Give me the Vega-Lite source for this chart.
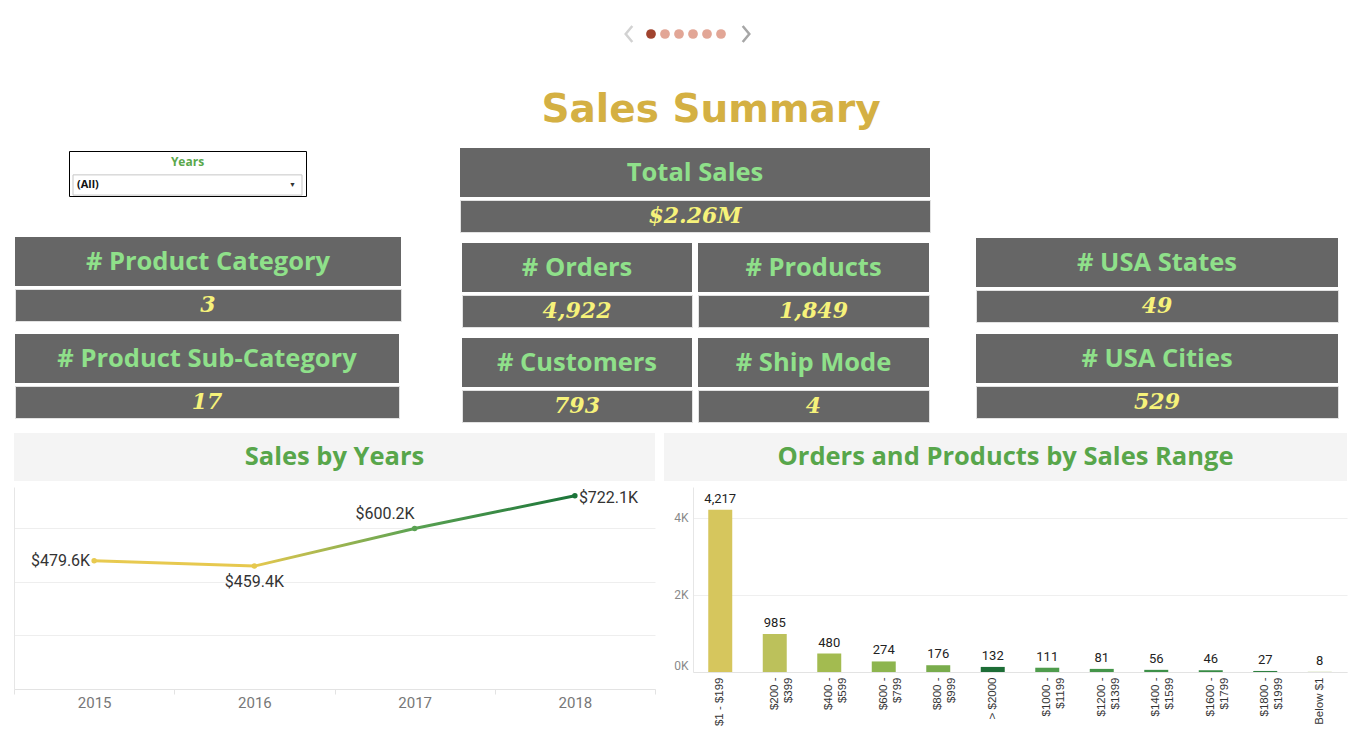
{
  "$schema": "https://vega.github.io/schema/vega-lite/v6.json",
  "background": "#ffffff",
  "padding": 0,
  "spacing": 0,
  "resolve": {"scale": {"color": "independent", "x": "independent", "y": "independent"}},
  "config": {
    "view": {"stroke": null},
    "concat": {"spacing": 0},
    "locale": {"number": {"decimal": ".", "thousands": ",", "grouping": [3], "currency": ["$", "K"]}},
    "text": {"font": "Roboto"}
  },
  "datasets": {
    "pages": [
      {"page": 1, "state": "current"},
      {"page": 2, "state": "other"},
      {"page": 3, "state": "other"},
      {"page": 4, "state": "other"},
      {"page": 5, "state": "other"},
      {"page": 6, "state": "other"}
    ],
    "filter": [{"part": "title", "label": "Years"}, {"part": "control", "label": "(All)"}],
    "kpi": [
      {"metric": "Total Sales", "value": "$2.26M"},
      {"metric": "# Product Category", "value": "3"},
      {"metric": "# Product Sub-Category", "value": "17"},
      {"metric": "# Orders", "value": "4,922"},
      {"metric": "# Products", "value": "1,849"},
      {"metric": "# Customers", "value": "793"},
      {"metric": "# Ship Mode", "value": "4"},
      {"metric": "# USA States", "value": "49"},
      {"metric": "# USA Cities", "value": "529"}
    ],
    "sales": [
      {"Year": "2015", "Sales": 479.6},
      {"Year": "2016", "Sales": 459.4},
      {"Year": "2017", "Sales": 600.2},
      {"Year": "2018", "Sales": 722.1}
    ],
    "ranges": [
      {"Range": "$1 - $199", "Count": 4217},
      {"Range": "$200 - $399", "Count": 985},
      {"Range": "$400 - $599", "Count": 480},
      {"Range": "$600 - $799", "Count": 274},
      {"Range": "$800 - $999", "Count": 176},
      {"Range": "> $2000", "Count": 132},
      {"Range": "$1000 - $1199", "Count": 111},
      {"Range": "$1200 - $1399", "Count": 81},
      {"Range": "$1400 - $1599", "Count": 56},
      {"Range": "$1600 - $1799", "Count": 46},
      {"Range": "$1800 - $1999", "Count": 27},
      {"Range": "Below $1", "Count": 8}
    ]
  },
  "vconcat": [
    {
      "hconcat": [
        {"width": 620, "height": 68, "data": {"values": []}, "mark": "text", "encoding": {}},
        {
          "width": 14, "height": 68,
          "data": {"values": [{"dir": "prev"}]},
          "mark": {"type": "point", "filled": false, "shape": "M0.25,-0.6L-0.25,0L0.25,0.6", "size": 700, "strokeWidth": 2.5, "color": "#d2d2d2", "opacity": 1},
          "encoding": {}
        },
        {"width": 6, "height": 68, "data": {"values": []}, "mark": "text", "encoding": {}},
        {
          "width": 84, "height": 68,
          "data": {"name": "pages"},
          "mark": {"type": "point", "filled": true, "size": 95, "opacity": 1},
          "encoding": {
            "x": {"field": "page", "type": "ordinal", "scale": {"type": "point", "padding": 0.5}, "axis": null},
            "color": {"field": "state", "type": "nominal", "scale": {"domain": ["current", "other"], "range": ["#a0432e", "#e2a696"]}, "legend": null}
          }
        },
        {"width": 9, "height": 68, "data": {"values": []}, "mark": "text", "encoding": {}},
        {
          "width": 14, "height": 68,
          "data": {"values": [{"dir": "next"}]},
          "mark": {"type": "point", "filled": false, "shape": "M-0.25,-0.6L0.25,0L-0.25,0.6", "size": 700, "strokeWidth": 2.5, "color": "#a6a6a6", "opacity": 1},
          "encoding": {}
        }
      ],
      "spacing": 0,
      "resolve": {"scale": {"color": "independent", "x": "independent"}}
    },
    {
      "width": 1366,
      "height": 80,
      "data": {"values": [{"title": "Sales Summary"}]},
      "mark": {"type": "text", "font": "DejaVu Sans", "fontWeight": "bold", "fontSize": 39, "color": "#d4b043", "dx": 28, "dy": 2},
      "encoding": {"text": {"field": "title", "type": "nominal"}}
    },
    {
      "hconcat": [
        {"width": 14, "height": 1, "data": {"values": []}, "mark": "text", "encoding": {}},
        {
          "vconcat": [
            {"width": 1, "height": 2, "data": {"values": []}, "mark": "text", "encoding": {}},
            {
              "hconcat": [
                {"width": 53, "height": 1, "data": {"values": []}, "mark": "text", "encoding": {}},
                {
                  "width": 237,
                  "height": 45,
                  "view": {"fill": "#ffffff", "stroke": "#000000", "strokeWidth": 1},
                  "data": {"name": "filter"},
                  "encoding": {
                    "y": {"field": "part", "type": "nominal", "scale": {"domain": ["title", "control"], "paddingInner": 0.12, "paddingOuter": 0.04}, "axis": null}
                  },
                  "layer": [
                    {
                      "transform": [{"filter": "datum.part === 'control'"}],
                      "mark": {"type": "rect", "fill": "#ffffff", "stroke": "#c6c6c6", "strokeWidth": 1},
                      "encoding": {"x": {"field": "part", "type": "nominal", "scale": {"domain": ["control"], "paddingInner": 0, "paddingOuter": 0.0175}, "axis": null}}
                    },
                    {
                      "transform": [{"filter": "datum.part === 'title'"}],
                      "mark": {"type": "text", "font": "Open Sans", "fontWeight": "bold", "fontSize": 12, "color": "#5aa84b"},
                      "encoding": {"text": {"field": "label", "type": "nominal"}}
                    },
                    {
                      "transform": [{"filter": "datum.part === 'control'"}],
                      "mark": {"type": "text", "align": "left", "dx": 4, "font": "Open Sans", "fontWeight": "bold", "fontSize": 11, "color": "#111111"},
                      "encoding": {"x": {"field": "part", "type": "nominal", "bandPosition": 0}, "text": {"field": "label", "type": "nominal"}}
                    },
                    {
                      "transform": [{"filter": "datum.part === 'control'"}],
                      "mark": {"type": "text", "text": "▼", "align": "right", "dx": -6, "fontSize": 7, "color": "#333333"},
                      "encoding": {"x": {"field": "part", "type": "nominal", "bandPosition": 1}}
                    }
                  ]
                }
              ],
              "spacing": 0
            },
            {"width": 1, "height": 40, "data": {"values": []}, "mark": "text", "encoding": {}},
            {
              "vconcat": [
                {"width": 386, "height": 49, "view": {"fill": "#666666", "stroke": null}, "data": {"name": "kpi"}, "transform": [{"filter": {"field": "metric", "equal": "# Product Category"}}], "mark": {"type": "text", "font": "Open Sans", "fontWeight": "bold", "fontSize": 25.5, "color": "#8fe08a"}, "encoding": {"text": {"field": "metric", "type": "nominal"}}},
                {"width": 386, "height": 32, "view": {"fill": "#666666", "stroke": "#e2e2e2", "strokeWidth": 1}, "data": {"name": "kpi"}, "transform": [{"filter": {"field": "metric", "equal": "# Product Category"}}], "mark": {"type": "text", "font": "DejaVu Serif", "fontStyle": "italic", "fontWeight": "bold", "fontSize": 22, "color": "#f6f27a"}, "encoding": {"text": {"field": "value", "type": "nominal"}}}
              ],
              "spacing": 2
            },
            {"width": 1, "height": 12, "data": {"values": []}, "mark": "text", "encoding": {}},
            {
              "vconcat": [
                {"width": 384, "height": 49, "view": {"fill": "#666666", "stroke": null}, "data": {"name": "kpi"}, "transform": [{"filter": {"field": "metric", "equal": "# Product Sub-Category"}}], "mark": {"type": "text", "font": "Open Sans", "fontWeight": "bold", "fontSize": 25.5, "color": "#8fe08a"}, "encoding": {"text": {"field": "metric", "type": "nominal"}}},
                {"width": 384, "height": 32, "view": {"fill": "#666666", "stroke": "#e2e2e2", "strokeWidth": 1}, "data": {"name": "kpi"}, "transform": [{"filter": {"field": "metric", "equal": "# Product Sub-Category"}}], "mark": {"type": "text", "font": "DejaVu Serif", "fontStyle": "italic", "fontWeight": "bold", "fontSize": 22, "color": "#f6f27a"}, "encoding": {"text": {"field": "value", "type": "nominal"}}}
              ],
              "spacing": 2
            }
          ],
          "spacing": 0
        },
        {"width": 57, "height": 1, "data": {"values": []}, "mark": "text", "encoding": {}},
        {
          "vconcat": [
            {
              "vconcat": [
                {"width": 470, "height": 49, "view": {"fill": "#666666", "stroke": null}, "data": {"name": "kpi"}, "transform": [{"filter": {"field": "metric", "equal": "Total Sales"}}], "mark": {"type": "text", "font": "Open Sans", "fontWeight": "bold", "fontSize": 25.5, "color": "#8fe08a"}, "encoding": {"text": {"field": "metric", "type": "nominal"}}},
                {"width": 470, "height": 32, "view": {"fill": "#666666", "stroke": "#e2e2e2", "strokeWidth": 1}, "data": {"name": "kpi"}, "transform": [{"filter": {"field": "metric", "equal": "Total Sales"}}], "mark": {"type": "text", "font": "DejaVu Serif", "fontStyle": "italic", "fontWeight": "bold", "fontSize": 22, "color": "#f6f27a"}, "encoding": {"text": {"field": "value", "type": "nominal"}}}
              ],
              "spacing": 2
            },
            {"width": 1, "height": 10, "data": {"values": []}, "mark": "text", "encoding": {}},
            {
              "hconcat": [
                {"width": 1, "height": 1, "data": {"values": []}, "mark": "text", "encoding": {}},
                {
                  "vconcat": [
                    {"width": 230, "height": 49, "view": {"fill": "#666666", "stroke": null}, "data": {"name": "kpi"}, "transform": [{"filter": {"field": "metric", "equal": "# Orders"}}], "mark": {"type": "text", "font": "Open Sans", "fontWeight": "bold", "fontSize": 25.5, "color": "#8fe08a"}, "encoding": {"text": {"field": "metric", "type": "nominal"}}},
                    {"width": 230, "height": 32, "view": {"fill": "#666666", "stroke": "#e2e2e2", "strokeWidth": 1}, "data": {"name": "kpi"}, "transform": [{"filter": {"field": "metric", "equal": "# Orders"}}], "mark": {"type": "text", "font": "DejaVu Serif", "fontStyle": "italic", "fontWeight": "bold", "fontSize": 22, "color": "#f6f27a"}, "encoding": {"text": {"field": "value", "type": "nominal"}}}
                  ],
                  "spacing": 2
                },
                {"width": 4, "height": 1, "data": {"values": []}, "mark": "text", "encoding": {}},
                {
                  "vconcat": [
                    {"width": 231, "height": 49, "view": {"fill": "#666666", "stroke": null}, "data": {"name": "kpi"}, "transform": [{"filter": {"field": "metric", "equal": "# Products"}}], "mark": {"type": "text", "font": "Open Sans", "fontWeight": "bold", "fontSize": 25.5, "color": "#8fe08a"}, "encoding": {"text": {"field": "metric", "type": "nominal"}}},
                    {"width": 231, "height": 32, "view": {"fill": "#666666", "stroke": "#e2e2e2", "strokeWidth": 1}, "data": {"name": "kpi"}, "transform": [{"filter": {"field": "metric", "equal": "# Products"}}], "mark": {"type": "text", "font": "DejaVu Serif", "fontStyle": "italic", "fontWeight": "bold", "fontSize": 22, "color": "#f6f27a"}, "encoding": {"text": {"field": "value", "type": "nominal"}}}
                  ],
                  "spacing": 2
                }
              ],
              "spacing": 0
            },
            {"width": 1, "height": 10, "data": {"values": []}, "mark": "text", "encoding": {}},
            {
              "hconcat": [
                {"width": 1, "height": 1, "data": {"values": []}, "mark": "text", "encoding": {}},
                {
                  "vconcat": [
                    {"width": 230, "height": 49, "view": {"fill": "#666666", "stroke": null}, "data": {"name": "kpi"}, "transform": [{"filter": {"field": "metric", "equal": "# Customers"}}], "mark": {"type": "text", "font": "Open Sans", "fontWeight": "bold", "fontSize": 25.5, "color": "#8fe08a"}, "encoding": {"text": {"field": "metric", "type": "nominal"}}},
                    {"width": 230, "height": 32, "view": {"fill": "#666666", "stroke": "#e2e2e2", "strokeWidth": 1}, "data": {"name": "kpi"}, "transform": [{"filter": {"field": "metric", "equal": "# Customers"}}], "mark": {"type": "text", "font": "DejaVu Serif", "fontStyle": "italic", "fontWeight": "bold", "fontSize": 22, "color": "#f6f27a"}, "encoding": {"text": {"field": "value", "type": "nominal"}}}
                  ],
                  "spacing": 2
                },
                {"width": 4, "height": 1, "data": {"values": []}, "mark": "text", "encoding": {}},
                {
                  "vconcat": [
                    {"width": 231, "height": 49, "view": {"fill": "#666666", "stroke": null}, "data": {"name": "kpi"}, "transform": [{"filter": {"field": "metric", "equal": "# Ship Mode"}}], "mark": {"type": "text", "font": "Open Sans", "fontWeight": "bold", "fontSize": 25.5, "color": "#8fe08a"}, "encoding": {"text": {"field": "metric", "type": "nominal"}}},
                    {"width": 231, "height": 32, "view": {"fill": "#666666", "stroke": "#e2e2e2", "strokeWidth": 1}, "data": {"name": "kpi"}, "transform": [{"filter": {"field": "metric", "equal": "# Ship Mode"}}], "mark": {"type": "text", "font": "DejaVu Serif", "fontStyle": "italic", "fontWeight": "bold", "fontSize": 22, "color": "#f6f27a"}, "encoding": {"text": {"field": "value", "type": "nominal"}}}
                  ],
                  "spacing": 2
                }
              ],
              "spacing": 0
            }
          ],
          "spacing": 0
        },
        {"width": 44, "height": 1, "data": {"values": []}, "mark": "text", "encoding": {}},
        {
          "vconcat": [
            {"width": 1, "height": 90, "data": {"values": []}, "mark": "text", "encoding": {}},
            {
              "vconcat": [
                {"width": 362, "height": 49, "view": {"fill": "#666666", "stroke": null}, "data": {"name": "kpi"}, "transform": [{"filter": {"field": "metric", "equal": "# USA States"}}], "mark": {"type": "text", "font": "Open Sans", "fontWeight": "bold", "fontSize": 25.5, "color": "#8fe08a"}, "encoding": {"text": {"field": "metric", "type": "nominal"}}},
                {"width": 362, "height": 32, "view": {"fill": "#666666", "stroke": "#e2e2e2", "strokeWidth": 1}, "data": {"name": "kpi"}, "transform": [{"filter": {"field": "metric", "equal": "# USA States"}}], "mark": {"type": "text", "font": "DejaVu Serif", "fontStyle": "italic", "fontWeight": "bold", "fontSize": 22, "color": "#f6f27a"}, "encoding": {"text": {"field": "value", "type": "nominal"}}}
              ],
              "spacing": 2
            },
            {"width": 1, "height": 11, "data": {"values": []}, "mark": "text", "encoding": {}},
            {
              "vconcat": [
                {"width": 362, "height": 49, "view": {"fill": "#666666", "stroke": null}, "data": {"name": "kpi"}, "transform": [{"filter": {"field": "metric", "equal": "# USA Cities"}}], "mark": {"type": "text", "font": "Open Sans", "fontWeight": "bold", "fontSize": 25.5, "color": "#8fe08a"}, "encoding": {"text": {"field": "metric", "type": "nominal"}}},
                {"width": 362, "height": 32, "view": {"fill": "#666666", "stroke": "#e2e2e2", "strokeWidth": 1}, "data": {"name": "kpi"}, "transform": [{"filter": {"field": "metric", "equal": "# USA Cities"}}], "mark": {"type": "text", "font": "DejaVu Serif", "fontStyle": "italic", "fontWeight": "bold", "fontSize": 22, "color": "#f6f27a"}, "encoding": {"text": {"field": "value", "type": "nominal"}}}
              ],
              "spacing": 2
            }
          ],
          "spacing": 0
        }
      ],
      "spacing": 0
    },
    {"width": 1, "height": 10, "data": {"values": []}, "mark": "text", "encoding": {}},
    {
      "hconcat": [
        {"width": 14, "height": 1, "data": {"values": []}, "mark": "text", "encoding": {}},
        {"width": 641, "height": 48, "view": {"fill": "#f4f4f4", "stroke": null}, "data": {"values": [{"heading": "Sales by Years"}]}, "mark": {"type": "text", "font": "Open Sans", "fontWeight": "bold", "fontSize": 25.5, "color": "#58a64b"}, "encoding": {"text": {"field": "heading", "type": "nominal"}}},
        {"width": 9, "height": 1, "data": {"values": []}, "mark": "text", "encoding": {}},
        {"width": 683, "height": 48, "view": {"fill": "#f4f4f4", "stroke": null}, "data": {"values": [{"heading": "Orders and Products by Sales Range"}]}, "mark": {"type": "text", "font": "Open Sans", "fontWeight": "bold", "fontSize": 25.5, "color": "#58a64b"}, "encoding": {"text": {"field": "heading", "type": "nominal"}}}
      ],
      "spacing": 0
    },
    {"width": 1, "height": 6, "data": {"values": []}, "mark": "text", "encoding": {}},
    {
      "hconcat": [
        {"width": 14, "height": 1, "data": {"values": []}, "mark": "text", "encoding": {}},
        {
          "width": 641,
          "height": 202,
          "data": {"name": "sales"},
          "encoding": {
            "x": {
              "field": "Year", "type": "ordinal",
              "scale": {"type": "band", "paddingInner": 0, "paddingOuter": 0},
              "axis": {"title": null, "labelAngle": 0, "labelFont": "Roboto", "labelFontSize": 15, "labelColor": "#777777", "labelPadding": 1, "tickBand": "extent", "tickColor": "#e3e3e3", "tickSize": 5, "domainColor": "#e3e3e3", "grid": false}
            },
            "y": {
              "field": "Sales", "type": "quantitative",
              "scale": {"domain": [0, 755], "nice": false},
              "axis": {"title": null, "labels": false, "ticks": false, "values": [0, 200, 400, 600], "domainColor": "#e6e6e6", "gridColor": "#eeeeee"}
            }
          },
          "layer": [
            {
              "mark": {
                "type": "line", "strokeWidth": 3,
                "color": {"gradient": "linear", "x1": 0, "y1": 0, "x2": 1, "y2": 0, "stops": [
                  {"offset": 0, "color": "#e8ca50"},
                  {"offset": 0.3333, "color": "#e6c84e"},
                  {"offset": 0.6667, "color": "#5aa252"},
                  {"offset": 1, "color": "#1b7439"}
                ]}
              }
            },
            {
              "mark": {"type": "point", "filled": true, "size": 30, "opacity": 1},
              "encoding": {"color": {"field": "Year", "type": "nominal", "scale": {"range": ["#e8ca50", "#e6c84e", "#5aa252", "#1b7439"]}, "legend": null}}
            },
            {
              "transform": [{"filter": "datum.Year === '2015'"}],
              "mark": {"type": "text", "align": "right", "baseline": "middle", "dx": -4, "fontSize": 16, "color": "#333333"},
              "encoding": {"text": {"field": "Sales", "type": "quantitative", "format": "$.1f"}}
            },
            {
              "transform": [{"filter": "datum.Year === '2016'"}],
              "mark": {"type": "text", "align": "center", "baseline": "top", "dy": 8, "fontSize": 16, "color": "#333333"},
              "encoding": {"text": {"field": "Sales", "type": "quantitative", "format": "$.1f"}}
            },
            {
              "transform": [{"filter": "datum.Year === '2017'"}],
              "mark": {"type": "text", "align": "right", "baseline": "bottom", "dy": -6, "fontSize": 16, "color": "#333333"},
              "encoding": {"text": {"field": "Sales", "type": "quantitative", "format": "$.1f"}}
            },
            {
              "transform": [{"filter": "datum.Year === '2018'"}],
              "mark": {"type": "text", "align": "left", "baseline": "middle", "dx": 4, "dy": 2, "fontSize": 16, "color": "#333333"},
              "encoding": {"text": {"field": "Sales", "type": "quantitative", "format": "$.1f"}}
            }
          ]
        },
        {"width": 38, "height": 1, "data": {"values": []}, "mark": "text", "encoding": {}},
        {
          "width": 654,
          "height": 185,
          "data": {"name": "ranges"},
          "encoding": {
            "x": {
              "field": "Range", "type": "nominal", "sort": null,
              "scale": {"paddingInner": 0.56, "paddingOuter": 0.28},
              "axis": {
                "title": null, "labelAngle": -90, "labelAlign": "right", "labelBaseline": "middle",
                "labelFont": "Liberation Sans", "labelFontSize": 11.5, "labelColor": "#333333", "labelPadding": 5, "labelLineHeight": 14,
                "ticks": false, "domainColor": "#e3e3e3",
                "labelExpr": "length(datum.value) > 9 ? [slice(datum.value, 0, indexof(datum.value, ' - ') + 2), slice(datum.value, indexof(datum.value, ' - ') + 3)] : datum.value"
              }
            },
            "y": {
              "field": "Count", "type": "quantitative",
              "scale": {"domain": [0, 4805], "nice": false},
              "axis": {"title": null, "values": [0, 2000, 4000], "labelExpr": "datum.value / 1000 + 'K'", "labelFont": "Roboto", "labelFontSize": 12, "labelColor": "#8a8a8a", "labelPadding": 5, "labelFlush": true, "ticks": false, "domainColor": "#e6e6e6", "gridColor": "#efefef"}
            }
          },
          "layer": [
            {
              "mark": {"type": "bar"},
              "encoding": {
                "color": {
                  "field": "Range", "type": "nominal", "legend": null,
                  "scale": {
                    "domain": ["$1 - $199", "$200 - $399", "$400 - $599", "$600 - $799", "$800 - $999", "> $2000", "$1000 - $1199", "$1200 - $1399", "$1400 - $1599", "$1600 - $1799", "$1800 - $1999", "Below $1"],
                    "range": ["#d6c65d", "#bcc15b", "#a3bb50", "#8db54e", "#79ac4c", "#1d6d36", "#4f9c4c", "#449549", "#3d9048", "#378b45", "#2e8040", "#c8d9a0"]
                  }
                }
              }
            },
            {
              "mark": {"type": "text", "baseline": "bottom", "dy": -4, "fontSize": 13, "color": "#222222"},
              "encoding": {"text": {"field": "Count", "type": "quantitative", "format": ","}}
            }
          ]
        }
      ],
      "spacing": 0,
      "bounds": "flush",
      "resolve": {"scale": {"color": "independent", "x": "independent", "y": "independent"}}
    }
  ]
}
